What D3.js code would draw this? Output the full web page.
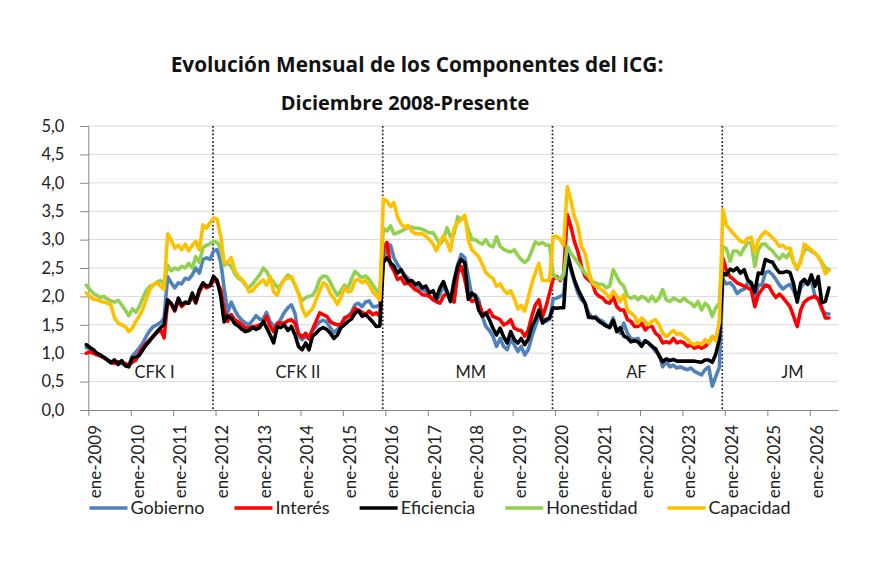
<!DOCTYPE html>
<html lang="es">
<head>
<meta charset="utf-8">
<title>Evolución Mensual de los Componentes del ICG</title>
<script src="https://cdn.jsdelivr.net/npm/d3@7"></script>
<style>
  body { margin: 0; background: #ffffff; }
  svg { display: block; font-family: Lato, "Open Sans", sans-serif; }
</style>
</head>
<body>
<div id="chart"></div>
<script>
// monthly values, first one is dic-2008 (one row = dic..nov)
var gobierno = [
  1.1, 1.07, 1.03, 1.0, 0.96, 0.92, 0.88, 0.85, 0.86, 0.84, 0.82, 0.8,
  0.79, 0.95, 1.02, 1.09, 1.18, 1.3, 1.4, 1.47, 1.5, 1.54, 1.62, 2.35,
  2.24, 2.15, 2.24, 2.22, 2.32, 2.3, 2.38, 2.5, 2.41, 2.65, 2.68, 2.65,
  2.8, 2.82, 2.6, 2.15, 1.72, 1.9, 1.76, 1.65, 1.58, 1.53, 1.5, 1.58,
  1.66, 1.6, 1.6, 1.72, 1.55, 1.48, 1.5, 1.6, 1.72, 1.8, 1.85, 1.7,
  1.3, 1.24, 1.3, 1.25, 1.4, 1.47, 1.55, 1.58, 1.55, 1.45, 1.36, 1.42,
  1.48, 1.6, 1.65, 1.72, 1.85, 1.88, 1.82, 1.9, 1.92, 1.82, 1.82, 1.85,
  2.6, 2.92, 2.9, 2.68, 2.56, 2.47, 2.38, 2.32, 2.25, 2.2, 2.15, 2.12,
  2.09, 2.0, 1.98, 1.91, 2.03, 2.18, 2.06, 1.91, 2.29, 2.56, 2.74, 2.68,
  2.35, 2.0, 2.03, 1.94, 1.65, 1.47, 1.4, 1.3, 1.12, 1.26, 1.12, 1.06,
  1.24, 1.15, 1.03, 1.12, 0.97, 1.06, 1.29, 1.47, 1.65, 1.62, 1.56, 1.6,
  1.95, 1.97, 2.0, 2.03, 2.71, 2.47, 2.26, 2.06, 1.94, 1.88, 1.71, 1.62,
  1.65, 1.59, 1.56, 1.5, 1.47, 1.62, 1.41, 1.35, 1.53, 1.35, 1.26, 1.24,
  1.26, 1.15, 1.21, 1.18, 1.12, 1.03, 0.97, 0.76, 0.85, 0.76, 0.79, 0.74,
  0.76, 0.73, 0.71, 0.74, 0.68, 0.65, 0.62, 0.71, 0.76, 0.42, 0.59, 0.75,
  2.3, 2.22, 2.24, 2.18, 2.05, 2.1, 2.13, 2.24, 2.2, 1.96, 2.2, 2.2,
  2.42, 2.44, 2.38, 2.3, 2.2, 2.13, 2.18, 2.21, 2.1, 1.94, 2.15, 2.24,
  2.22, 2.28, 2.0, 1.97, 1.76, 1.7, 1.69
];
var interes = [
  1.0, 1.02, 1.0, 0.97, 0.95, 0.92, 0.88, 0.84, 0.82, 0.85, 0.83, 0.82,
  0.79, 0.84, 0.88, 1.0, 1.1, 1.17, 1.24, 1.3, 1.36, 1.42, 1.27, 1.9,
  1.86, 1.74, 1.93, 1.82, 1.88, 1.88, 2.0, 1.88, 2.08, 2.2, 2.15, 2.18,
  2.3, 2.24, 2.12, 1.76, 1.56, 1.68, 1.59, 1.55, 1.5, 1.45, 1.44, 1.47,
  1.47, 1.5, 1.53, 1.65, 1.47, 1.38, 1.53, 1.53, 1.53, 1.57, 1.59, 1.53,
  1.35, 1.28, 1.35, 1.26, 1.42, 1.56, 1.71, 1.68, 1.65, 1.56, 1.52, 1.5,
  1.5, 1.62, 1.65, 1.68, 1.79, 1.76, 1.72, 1.68, 1.74, 1.68, 1.71, 1.65,
  2.85, 2.95, 2.55, 2.45, 2.3, 2.33, 2.22, 2.24, 2.18, 2.12, 2.09, 2.03,
  2.02, 2.0, 1.94, 1.91, 1.88, 2.0, 2.06, 2.0, 1.9, 2.4, 2.53, 2.3,
  2.0, 1.91, 1.94, 1.88, 1.71, 1.68, 1.76, 1.65, 1.62, 1.59, 1.5, 1.53,
  1.59, 1.44, 1.41, 1.4, 1.3, 1.4, 1.65, 1.85, 1.94, 1.65, 1.82, 2.06,
  2.3, 2.35, 2.28, 2.4, 3.44, 3.24, 2.97, 2.79, 2.53, 2.35, 2.29, 2.24,
  2.06, 2.0, 1.97, 1.9, 1.88, 2.0, 1.82, 1.76, 1.76, 1.59, 1.56, 1.47,
  1.47, 1.53, 1.41, 1.47, 1.47, 1.35, 1.3, 1.18, 1.2, 1.18, 1.26, 1.18,
  1.21, 1.18, 1.12, 1.15, 1.09, 1.12, 1.09, 1.12, 1.18, 1.29, 1.24, 1.45,
  2.68, 2.45, 2.35, 2.3, 2.24, 2.21, 2.18, 2.15, 2.12, 1.82, 2.03, 2.12,
  2.2, 2.18, 2.06, 1.98, 2.04, 1.98, 1.9, 1.82, 1.65, 1.47, 1.76, 1.9,
  1.95, 1.98, 2.0, 1.94, 1.8, 1.62, 1.62
];
var eficiencia = [
  1.15, 1.1, 1.06, 1.0, 0.97, 0.93, 0.88, 0.83, 0.88, 0.8, 0.87, 0.78,
  0.76, 0.92, 0.93, 0.96, 1.06, 1.15, 1.22, 1.3, 1.38, 1.45, 1.5, 1.94,
  1.88, 1.76, 1.97, 1.85, 1.9, 1.88, 2.06, 1.9, 2.12, 2.24, 2.18, 2.2,
  2.35, 2.28, 2.0, 1.55, 1.66, 1.62, 1.52, 1.48, 1.42, 1.38, 1.4, 1.45,
  1.42, 1.45, 1.56, 1.45, 1.32, 1.18, 1.47, 1.45, 1.5, 1.4, 1.47, 1.32,
  1.12, 1.06, 1.18, 1.06, 1.3, 1.35, 1.42, 1.45, 1.42, 1.35, 1.26, 1.32,
  1.45, 1.5, 1.56, 1.6, 1.7, 1.75, 1.65, 1.68, 1.62, 1.55, 1.47, 1.48,
  2.6, 2.68, 2.59, 2.53, 2.41, 2.47, 2.35, 2.26, 2.28, 2.21, 2.24, 2.15,
  2.18, 2.06, 2.1, 1.96, 2.15, 2.26, 2.09, 1.91, 2.26, 2.53, 2.65, 2.59,
  1.95, 2.06, 2.0, 1.76, 1.65, 1.71, 1.59, 1.44, 1.32, 1.44, 1.29, 1.18,
  1.38, 1.24, 1.18, 1.26, 1.15, 1.25, 1.47, 1.59, 1.76, 1.53, 1.59, 1.62,
  1.8, 1.79, 1.8, 1.8, 2.76, 2.52, 2.29, 2.13, 2.0, 1.88, 1.63, 1.63,
  1.62, 1.56, 1.52, 1.48, 1.45, 1.58, 1.38, 1.45, 1.3, 1.27, 1.2, 1.22,
  1.2, 1.12, 1.22, 1.18, 1.12, 1.08, 0.95, 0.85, 0.9, 0.87, 0.89, 0.86,
  0.86, 0.86, 0.86, 0.86, 0.86, 0.85, 0.84, 0.88, 0.88, 0.84, 0.98, 1.25,
  2.41, 2.38, 2.48, 2.45, 2.5, 2.41, 2.47, 2.29, 2.24, 2.08, 2.41, 2.4,
  2.65, 2.62, 2.6, 2.5, 2.42, 2.42, 2.44, 2.42, 2.22, 1.9, 2.24, 2.3,
  2.21, 2.38, 2.18, 2.35, 1.89, 1.91, 2.15
];
var honestidad = [
  2.2, 2.12, 2.05, 2.02, 1.98, 2.0, 1.95, 1.92, 1.9, 1.93, 1.85, 1.76,
  1.66, 1.78, 1.72, 1.82, 1.97, 2.1, 2.18, 2.2, 2.25, 2.28, 2.22, 2.55,
  2.45, 2.5, 2.47, 2.53, 2.5, 2.58, 2.5, 2.7, 2.6, 2.86, 2.9, 2.93,
  2.97, 2.95, 2.85, 2.55, 2.58, 2.53, 2.4, 2.32, 2.28, 2.2, 2.15, 2.22,
  2.3, 2.38, 2.5, 2.44, 2.32, 2.25, 2.16, 2.2, 2.3, 2.38, 2.32, 2.2,
  2.05, 1.92, 1.98, 2.0, 2.02, 2.12, 2.3, 2.36, 2.35, 2.25, 2.12, 2.02,
  2.1, 2.2, 2.15, 2.3, 2.44, 2.38, 2.33, 2.36, 2.3, 2.2, 2.12, 2.04,
  3.2, 3.15, 3.24, 3.1, 3.12, 3.15, 3.18, 3.22, 3.22, 3.2, 3.2, 3.18,
  3.15, 3.12, 3.12, 3.03, 2.92, 3.0, 3.21, 3.05, 3.1, 3.4, 3.36, 3.38,
  3.18, 3.0, 3.0, 2.95, 2.92, 3.0, 2.9, 2.87, 3.05, 2.88, 2.83, 2.8,
  2.78, 2.82, 2.72, 2.65, 2.6, 2.65, 2.8, 2.96, 2.92, 2.95, 2.9, 2.9,
  2.4, 2.32, 2.3, 2.38, 2.88, 2.76, 2.68, 2.59, 2.5, 2.41, 2.35, 2.26,
  2.24, 2.21, 2.21, 2.15, 2.18, 2.47, 2.35, 2.24, 2.18, 2.0, 1.97, 2.0,
  1.94, 2.0, 1.97, 1.91, 2.0, 1.91, 1.97, 2.12, 1.94, 1.91, 1.97, 1.94,
  1.91, 1.97, 1.91, 1.88, 1.82, 1.91, 1.76, 1.88, 1.82, 1.65, 1.8, 1.88,
  2.88, 2.84, 2.62, 2.8, 2.8, 2.73, 2.85, 2.94, 2.95, 2.53, 2.82, 2.92,
  2.92, 2.85, 2.8, 2.72, 2.66, 2.74, 2.68, 2.78, 2.6, 2.47, 2.65, 2.8,
  2.85, 2.79, 2.76, 2.7, 2.6, 2.5, 2.47
];
var capacidad = [
  2.06, 2.0, 1.95, 1.94, 1.92, 1.9, 1.88, 1.85, 1.62, 1.53, 1.5, 1.47,
  1.38, 1.44, 1.56, 1.65, 1.78, 1.95, 2.12, 2.2, 2.24, 2.18, 2.12, 3.1,
  3.0, 2.85, 2.9, 2.82, 2.92, 2.8, 2.9, 2.97, 2.82, 3.26, 3.2, 3.3,
  3.38, 3.36, 3.05, 2.6, 2.6, 2.68, 2.45, 2.35, 2.3, 2.22, 2.08, 2.1,
  2.18, 2.24, 2.29, 2.2, 2.35, 2.08, 2.02, 2.2, 2.3, 2.32, 2.35, 2.2,
  2.06, 1.8, 1.65, 1.72, 1.78, 1.94, 2.1, 2.24, 2.2, 2.05, 1.97, 1.86,
  1.98, 2.15, 2.08, 2.1, 2.28, 2.3, 2.24, 2.28, 2.2, 2.08, 2.02, 1.94,
  3.72, 3.68, 3.58, 3.65, 3.4, 3.28, 3.22, 3.25, 3.15, 3.1, 3.1, 3.1,
  3.06, 3.0, 2.92, 2.8, 2.97, 3.07, 2.95, 2.8, 3.2, 3.3, 3.35, 3.43,
  3.0, 2.82, 2.76, 2.7, 2.56, 2.42, 2.36, 2.32, 2.18, 2.22, 2.12, 2.05,
  2.1, 1.96, 1.78, 1.84, 1.74, 1.98, 2.22, 2.42, 2.58, 2.28, 2.28, 2.28,
  3.05, 3.06, 3.0, 2.9, 3.93, 3.7, 3.41, 3.24, 2.88, 2.76, 2.47, 2.24,
  2.18, 2.15, 2.1, 2.05, 1.97, 2.09, 2.0, 1.91, 2.03, 1.76, 1.71, 1.65,
  1.53, 1.62, 1.56, 1.5, 1.56, 1.59, 1.5, 1.35, 1.29, 1.35, 1.4, 1.33,
  1.35, 1.29, 1.24, 1.18, 1.15, 1.18, 1.15, 1.24, 1.18, 1.29, 1.22, 1.55,
  3.53, 3.25, 3.18, 3.1, 3.04, 2.97, 2.95, 3.02, 3.04, 2.78, 2.98, 3.08,
  3.14, 3.09, 3.03, 2.97, 2.88, 2.9, 2.84, 2.85, 2.6, 2.5, 2.6, 2.92,
  2.87, 2.82, 2.76, 2.7, 2.58, 2.4, 2.46
];

var seriesNames = ["Gobierno", "Interés", "Eficiencia", "Honestidad", "Capacidad"];
var seriesColors = ["#4f81bd", "#ff0000", "#000000", "#92d050", "#ffc000"];
var yTicks = [0, 0.5, 1, 1.5, 2, 2.5, 3, 3.5, 4, 4.5, 5];
var tickYears = [2009, 2010, 2011, 2012, 2013, 2014, 2015, 2016, 2017,
                 2018, 2019, 2020, 2021, 2022, 2023, 2024, 2025, 2026];
var govChanges = ["2011-12-10", "2015-12-10", "2019-12-10", "2023-12-10"];
var govLabels = ["CFK I", "CFK II", "MM", "AF", "JM"];
var govLabelDates = ["2010-07-25", "2013-12-10", "2018-01-05", "2021-12-01", "2025-08-05"];

var width = 870, height = 580;
var firstMonth = new Date(2008, 11, 15);
var parseDay = d3.timeParse("%Y-%m-%d");

var es = d3.timeFormatLocale({
  dateTime: "%A, %e de %B de %Y, %X", date: "%d/%m/%Y", time: "%H:%M:%S",
  periods: ["AM", "PM"],
  days: ["domingo", "lunes", "martes", "miércoles", "jueves", "viernes", "sábado"],
  shortDays: ["dom", "lun", "mar", "mié", "jue", "vie", "sáb"],
  months: ["enero", "febrero", "marzo", "abril", "mayo", "junio", "julio",
           "agosto", "septiembre", "octubre", "noviembre", "diciembre"],
  shortMonths: ["ene", "feb", "mar", "abr", "may", "jun", "jul", "ago", "sep", "oct", "nov", "dic"]
});
var numFormat = d3.formatLocale({decimal: ",", thousands: ".", grouping: [3], currency: ["$", ""]})
  .format(".1f");

var svg = d3.select("#chart").append("svg")
  .attr("width", width)
  .attr("height", height);

var x = d3.scaleTime()
  .domain([new Date(2009, 0, 1), new Date(2026, 8, 1)])
  .range([88.3, 838]);
var y = d3.scaleLinear()
  .domain([0, 5])
  .range([410, 126]);

// title
svg.append("text")
  .attr("x", 417).attr("y", 72)
  .attr("text-anchor", "middle")
  .style("font-family", "'Open Sans', sans-serif")
  .style("font-size", "20.8px").style("font-weight", "bold").style("fill", "#111")
  .text("Evolución Mensual de los Componentes del ICG:");
svg.append("text")
  .attr("x", 405).attr("y", 110)
  .attr("text-anchor", "middle")
  .style("font-family", "'Open Sans', sans-serif")
  .style("font-size", "20px").style("font-weight", "bold").style("fill", "#111")
  .text("Diciembre 2008-Presente");

// gridlines
svg.append("g")
  .selectAll("line")
  .data(yTicks.filter(function(d) { return d > 0; }))
  .enter().append("line")
  .attr("x1", x.range()[0]).attr("x2", x.range()[1])
  .attr("y1", function(d) { return y(d); })
  .attr("y2", function(d) { return y(d); })
  .style("stroke", "#d9d9d9").style("stroke-width", 1);

// y axis
var yAxis = d3.axisLeft(y)
  .tickValues(yTicks)
  .tickSize(8)
  .tickPadding(16)
  .tickFormat(numFormat);
var gy = svg.append("g")
  .attr("transform", "translate(" + x.range()[0] + ",0)")
  .call(yAxis);
gy.select(".domain").style("stroke", "#868686");
gy.selectAll(".tick line").style("stroke", "#868686");
gy.selectAll(".tick text")
  .style("font-family", "Lato, sans-serif").style("font-size", "16.5px").style("fill", "#222");

// x axis
var xAxis = d3.axisBottom(x)
  .tickValues(tickYears.map(function(yr) { return new Date(yr, 0, 1); }))
  .tickSize(6)
  .tickSizeOuter(0)
  .tickFormat(es.format("%b-%Y"));
var gx = svg.append("g")
  .attr("transform", "translate(0," + y(0) + ")")
  .call(xAxis);
gx.select(".domain").style("stroke", "#868686");
gx.selectAll(".tick line").style("stroke", "#868686");
gx.selectAll(".tick text")
  .attr("transform", "translate(6.5,15) rotate(-90)")
  .attr("x", 0).attr("y", 0).attr("dy", "0.35em")
  .attr("text-anchor", "end")
  .style("font-family", "Lato, sans-serif").style("font-size", "17px").style("fill", "#222");

// government change markers
svg.append("g")
  .selectAll("line")
  .data(govChanges)
  .enter().append("line")
  .attr("x1", function(d) { return x(parseDay(d)); })
  .attr("x2", function(d) { return x(parseDay(d)); })
  .attr("y1", y(5)).attr("y2", y(0))
  .style("stroke", "#222").style("stroke-width", 1.7)
  .style("stroke-dasharray", "1.7,2.1");

svg.append("g")
  .selectAll("text")
  .data(govLabels)
  .enter().append("text")
  .attr("x", function(d, i) { return x(parseDay(govLabelDates[i])); })
  .attr("y", 378)
  .attr("text-anchor", "middle")
  .style("font-size", "16.5px").style("fill", "#222")
  .text(function(d) { return d; });

// series lines
var allSeries = [gobierno, interes, eficiencia, honestidad, capacidad];
var line = d3.line()
  .x(function(d, i) { return x(d3.timeMonth.offset(firstMonth, i)); })
  .y(function(d) { return y(d); });

svg.append("g")
  .selectAll("path")
  .data(allSeries)
  .enter().append("path")
  .attr("d", line)
  .style("fill", "none")
  .style("stroke", function(d, i) { return seriesColors[i]; })
  .style("stroke-width", 3.6)
  .style("stroke-linejoin", "round")
  .style("stroke-linecap", "round");

// legend, laid out from the text widths and centred
var legend = svg.append("g");
var items = legend.selectAll("g")
  .data(seriesNames)
  .enter().append("g");
items.append("line")
  .attr("x1", 0).attr("x2", 38)
  .attr("y1", 0).attr("y2", 0)
  .style("stroke", function(d, i) { return seriesColors[i]; })
  .style("stroke-width", 3.6);
items.append("text")
  .attr("x", 41).attr("y", 0).attr("dy", "0.35em")
  .style("font-size", "18px").style("fill", "#222")
  .text(function(d) { return d; });

var pos = 0, offsets = [];
items.each(function() {
  offsets.push(pos);
  pos += 41 + this.querySelector("text").getComputedTextLength() + 30;
});
var legendWidth = pos - 30;
items.attr("transform", function(d, i) {
  return "translate(" + (440 - legendWidth / 2 + offsets[i]) + ",508)";
});
</script>
</body>
</html>
